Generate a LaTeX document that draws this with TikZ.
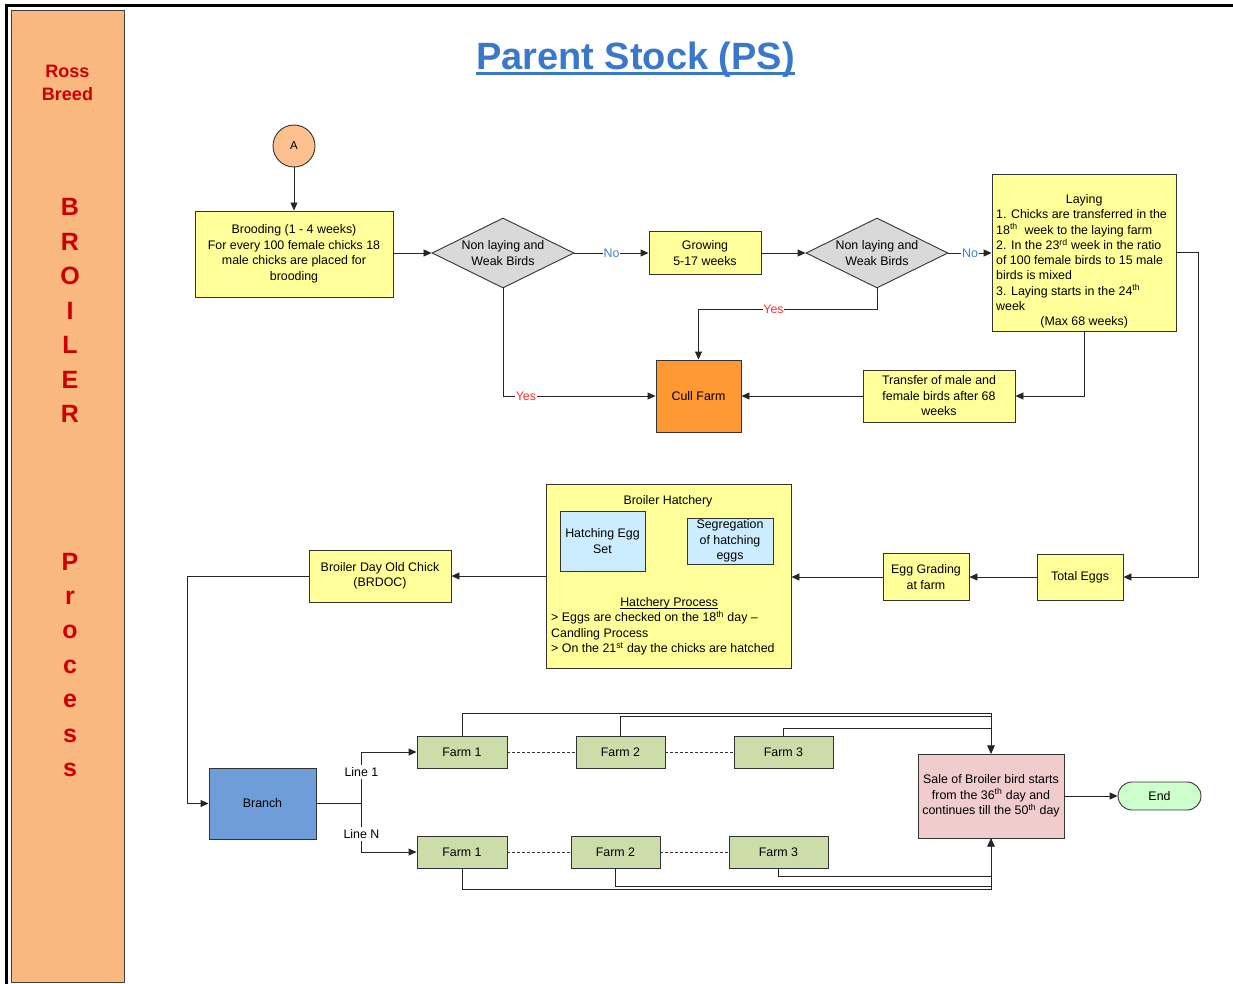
\documentclass[tikz,border=0pt]{standalone}
\usepackage{fontspec}
\setmainfont{Liberation Sans}
\usetikzlibrary{arrows.meta,shapes.geometric}
\definecolor{yel}{HTML}{FFFF99}
\definecolor{diag}{HTML}{D9D9D9}
\definecolor{cullc}{HTML}{FF9933}
\definecolor{hblue}{HTML}{CCECFF}
\definecolor{farmc}{HTML}{CCDDAA}
\definecolor{branchc}{HTML}{6F9DD9}
\definecolor{salec}{HTML}{F0CCCC}
\definecolor{endc}{HTML}{CCFFCC}
\definecolor{sidec}{HTML}{F9B880}
\definecolor{peach}{HTML}{FBC08E}
\definecolor{titleblue}{HTML}{3A78CC}
\definecolor{noblue}{HTML}{3A7FD8}
\definecolor{yesred}{HTML}{FF3030}
\definecolor{sidered}{HTML}{CC0000}
\newcommand\fs{\fontsize{12.4}{15.5}\selectfont}
\newcommand\fsl{\fontsize{12.4}{15.25}\selectfont}
\tikzset{
  bx/.style={draw=black!80, line width=0.9pt, inner sep=0pt, align=center, font=\fs},
  dia/.style={draw=black!80, line width=0.9pt, diamond, fill=diag, inner sep=0pt, minimum width=142pt, minimum height=70pt},
  txt/.style={inner sep=0pt, align=center, font=\fs},
  con/.style={draw=black!85, line width=0.9pt},
  arr/.style={con, -{Triangle[length=8pt,width=7pt]}},
  lab/.style={fill=white, inner sep=0.6pt, font=\fs},
  linelab/.style={fill=white, inner xsep=0.6pt, inner ysep=2.5pt, font=\fs},
  farm/.style={bx, fill=farmc, minimum height=32pt},
  dsh/.style={draw=black!80, line width=0.7pt, dash pattern=on 3pt off 2pt},
}
\begin{document}
\begin{tikzpicture}[x=1pt,y=-1pt]
\useasboundingbox (0,0) rectangle (1233,984);
% frame
\draw[line width=3pt] (6,984) -- (6,5.6) -- (1233,5.6);
% sidebar
\node[draw=black!75, line width=0.8pt, fill=sidec, minimum width=113pt, minimum height=972pt, inner sep=0pt] (side) at (67.5,496) {};
\node[txt, text=sidered, font=\fontsize{18}{23}\selectfont\bfseries] (ross) at (67.5,83) {Ross\\Breed};
\foreach \l [count=\i from 0] in {B,R,O,I,L,E,R}
  \node[inner sep=0pt, anchor=base, text=sidered, font=\fontsize{25}{30}\selectfont\bfseries] (b\i) at (70,216+34.4*\i) {\l};
\foreach \l [count=\i from 0] in {P,r,o,c,e,s,s}
  \node[inner sep=0pt, anchor=base, text=sidered, font=\fontsize{25}{30}\selectfont\bfseries] (p\i) at (70,570+34.4*\i) {\l};
% title
\node[inner sep=0pt, anchor=base, text=titleblue, font=\fontsize{38}{45}\selectfont\bfseries] (title) at (635.5,70) {Parent Stock (PS)};
\draw[titleblue, line width=3pt] (title.base west) ++(0,4) -- ([yshift=-4pt]title.base east);
% top flow
\node[bx, circle, fill=peach, minimum size=42pt, font=\fontsize{11.5}{14}\selectfont] (A) at (294,146) {A};
\node[bx, fill=yel, minimum width=198pt, minimum height=86pt] (brood) at (294,254) {Brooding (1 - 4 weeks)\\For every 100 female chicks 18\\male chicks are placed for\\brooding};
\node[dia] (d1) at (503,253) {};
\node[txt] (d1t) at (d1) {Non laying and\\Weak Birds};
\node[bx, fill=yel, minimum width=112pt, minimum height=43pt] (grow) at (705,253) {Growing\\5-17 weeks};
\node[dia] (d2) at (877,253) {};
\node[txt] (d2t) at (d2) {Non laying and\\Weak Birds};
\node[bx, fill=yel, minimum width=184pt, minimum height=157pt] (lay) at (1084,252.5) {};
\node[txt, font=\fsl, align=left, anchor=west] (layt) at (996,261.5) {\makebox[176pt]{Laying}\\
1. Chicks are transferred in the\\
18\textsuperscript{th}\ \ week to the laying farm\\
2. In the 23\textsuperscript{rd} week in the ratio\\
of 100 female birds to 15 male\\
birds is mixed\\
3. Laying starts in the 24\textsuperscript{th}\\
week\\
\makebox[176pt]{(Max 68 weeks)}};
\node[bx, fill=cullc, minimum width=85pt, minimum height=72pt] (cull) at (698.5,396) {Cull Farm};
\node[bx, fill=yel, minimum width=152pt, minimum height=52pt] (trans) at (939,396) {Transfer of male and\\female birds after 68\\weeks};
% middle flow
\node[bx, fill=yel, minimum width=86pt, minimum height=46pt] (tot) at (1080,577) {Total Eggs};
\node[bx, fill=yel, minimum width=86pt, minimum height=47pt] (egg) at (926,577) {Egg Grading\\at farm};
\node[bx, fill=yel, minimum width=245pt, minimum height=184pt] (hat) at (668.5,576) {};
\node[txt] (hatt) at (668,501) {Broiler Hatchery};
\node[bx, fill=hblue, minimum width=85pt, minimum height=60pt] (hes) at (602.5,541) {Hatching Egg\\Set};
\node[bx, fill=hblue, minimum width=86pt, minimum height=46pt] (seg) at (730,541) {Segregation\\of hatching\\eggs};
\node[txt, align=left, anchor=west] (hatp) at (551,626.5) {\makebox[236pt]{\underline{\raisebox{0pt}[\height][0pt]{Hatchery Process}}}\\
{>} Eggs are checked on the 18\textsuperscript{th} day –\\
Candling Process\\
{>} On the 21\textsuperscript{st} day the chicks are hatched};
\node[bx, fill=yel, minimum width=142pt, minimum height=52pt] (brdoc) at (380,576) {Broiler Day Old Chick\\(BRDOC)};
% bottom flow
\node[bx, fill=branchc, minimum width=107pt, minimum height=71pt] (branch) at (262.5,803.5) {Branch};
\node[farm, minimum width=90pt] (f11) at (462,752) {Farm 1};
\node[farm, minimum width=89pt] (f12) at (620.5,752) {Farm 2};
\node[farm, minimum width=99pt] (f13) at (783.5,752) {Farm 3};
\node[farm, minimum width=90pt] (f21) at (462,852) {Farm 1};
\node[farm, minimum width=89pt] (f22) at (615.5,852) {Farm 2};
\node[farm, minimum width=99pt] (f23) at (778.5,852) {Farm 3};
\node[bx, fill=salec, minimum width=146pt, minimum height=84pt] (sale) at (991,796) {Sale of Broiler bird starts\\from the 36\textsuperscript{th} day and\\continues till the 50\textsuperscript{th} day};
\node[bx, fill=endc, minimum width=83pt, minimum height=28pt, rounded corners=14pt] (end) at (1159.5,796) {End};
% connectors
\draw[arr] (A) -- (brood);
\draw[arr] (brood.east |- d1) -- (d1);
\draw[arr] (d1) -- node[lab, text=noblue] {No} (grow);
\draw[arr] (grow) -- (d2);
\draw[arr] (d2) -- node[lab, text=noblue] {No} (lay.west |- d2);
\draw[arr] (d2.south) -- ++(0,21) -| node[lab, text=yesred, pos=0.29] {Yes} (cull.north);
\draw[arr] (d1.south) |- node[lab, text=yesred, pos=0.575] {Yes} (cull.west);
\draw[arr] (lay.south) |- (trans.east);
\draw[arr] (trans) -- (cull);
\draw[arr] (lay.east) -- ++(22,0) |- (tot.east);
\draw[arr] (tot) -- (egg);
\draw[arr] (egg) -- (hat.east |- egg);
\draw[arr] (hat.west |- brdoc) -- (brdoc.east);
\draw[arr] (brdoc.west) -- ++(-121,0) |- (branch.west);
\draw[con] (branch.east) -- ++(45,0) coordinate (bj);
\draw[arr] (bj) |- node[linelab, pos=0.31] {Line 1} (f11.west);
\draw[arr] (bj) |- node[linelab, pos=0.31] {Line N} (f21.west);
\draw[dsh] (f11) -- (f12);
\draw[dsh] (f12) -- (f13);
\draw[dsh] (f21) -- (f22);
\draw[dsh] (f22) -- (f23);
\draw[arr] (f11.north) -- ++(0,-22) -| (sale.north);
\draw[arr] (f12.north) -- ++(0,-19) -| (sale.north);
\draw[arr] (f13.north) -- ++(0,-7) -| (sale.north);
\draw[arr] (f21.south) -- ++(0,21) -| (sale.south);
\draw[arr] (f22.south) -- ++(0,18) -| (sale.south);
\draw[arr] (f23.south) -- ++(0,8) -| (sale.south);
\draw[arr] (sale) -- (end);
\end{tikzpicture}
\end{document}
